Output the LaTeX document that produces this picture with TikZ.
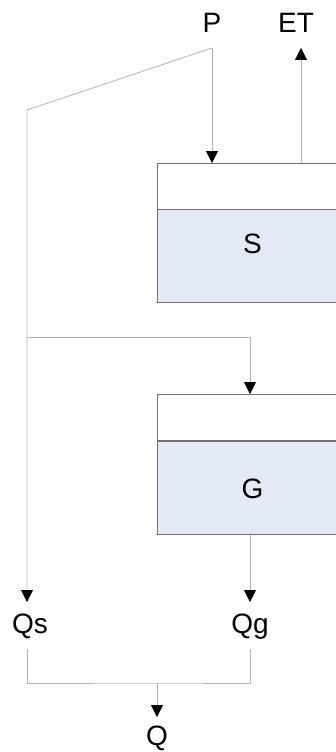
\documentclass[tikz,border=0pt]{standalone}
\usepackage{fontspec}
\setmainfont{Liberation Sans}
\usetikzlibrary{arrows.meta, positioning, calc}
\definecolor{storefill}{HTML}{E4EAF5}
\definecolor{boxline}{HTML}{707070}
\definecolor{flowline}{HTML}{B4B4B4}

\begin{document}
\begin{tikzpicture}[
    x=1pt, y=-1pt,
    lbl/.style = {font=\fontsize{28}{30}\selectfont, inner sep=0pt, anchor=base},
    head/.style = {rectangle, draw=boxline, line width=1pt, fill=white, minimum width=190pt, minimum height=46pt, anchor=north west, inner sep=0pt},
    store/.style = {rectangle, draw=boxline, line width=1pt, fill=storefill, minimum width=190pt, minimum height=93pt, anchor=north west, inner sep=0pt},
    flow/.style = {draw=flowline, line width=0.8pt},
    arr/.style = {flow, -{Triangle[length=12pt, width=12pt, color=black]}}
]
    \useasboundingbox (0,0) rectangle (335,752);

    % 1. Reservoirs
    \node [head] (Stop) at (157,163) {};
    \node [store] (S) at (157,209) {};
    \node [lbl] at ($(S.center)+(0,-3)$) {S};
    \node [head] (Gtop) at (157,394) {};
    \node [store] (G) at (157,441) {};
    \node [lbl] at ($(G.center)+(0,10)$) {G};

    % 2. Fluxes
    \node [lbl] (P) at (212,33) {P};
    \node [lbl] (ET) at (296,33) {ET};
    \node [lbl] (Qs) at (30,633) {Qs};
    \node [lbl] (Qg) at (250,633) {Qg};
    \node [lbl] (Q) at (157,745) {Q};

    % 3. Junction points
    \coordinate (pin) at (212,48);
    \coordinate (etout) at (301,48);
    \coordinate (bend) at (27,110);
    \coordinate (split) at (27,337);
    \coordinate (qsin) at (27,602);
    \coordinate (qgin) at (250,602);
    \coordinate (qsout) at (27,649);
    \coordinate (qgout) at (250,649);
    \coordinate (merge) at (157,683);
    \coordinate (qin) at (157,717);

    % 4. Connections
    \draw [arr] (pin) -- (pin |- Stop.north);
    \draw [arr] (etout |- Stop.north) -- (etout);
    \draw [arr] (pin) -- (bend) -- (qsin);
    \draw [arr] (split) -| (qgin |- Gtop.north);
    \draw [arr] (qgin |- G.south) -- (qgin);
    \draw [flow] (qsout) |- (merge) -| (qgout);
    \draw [arr] (merge) -- (qin);

\end{tikzpicture}
\end{document}
